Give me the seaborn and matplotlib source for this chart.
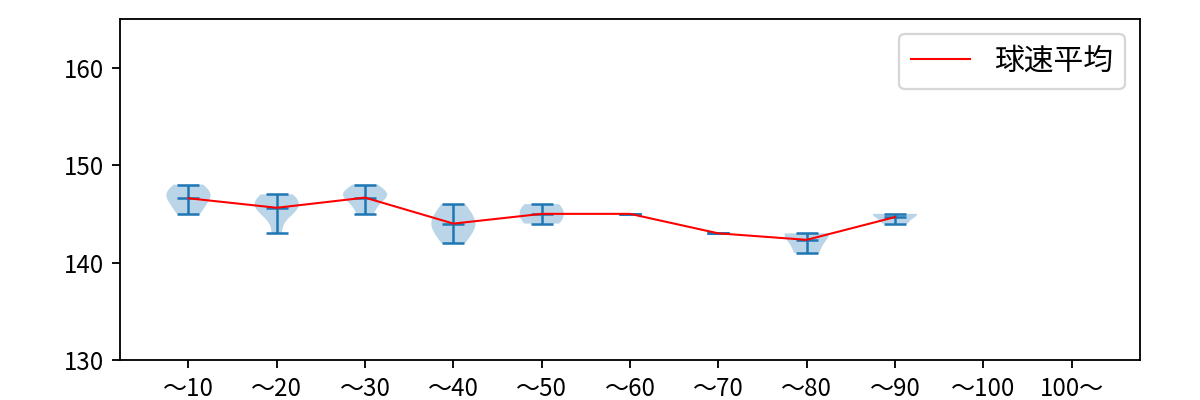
import numpy as np
import pandas as pd
import matplotlib
matplotlib.use("Agg")
import matplotlib.pyplot as plt
import seaborn as sns

plt.rcParams['font.family'] = ['Noto Sans CJK JP', 'DejaVu Sans']

categories = ["〜10", "〜20", "〜30", "〜40", "〜50", "〜60", "〜70", "〜80", "〜90", "〜100", "100〜"]
g10 = [145, 146, 147, 147, 148]
g20 = [143, 145, 145, 146, 146, 146, 147, 147]
g30 = [145, 146, 147, 147, 147, 148]
g40 = [142, 143, 144, 144, 145, 146]
g50 = [144, 145, 146]
g60 = [145]
g70 = [143]
g80 = [141, 143, 143]
g90 = [144, 145, 145]
g100 = []
g100p = []
groups = [g10, g20, g30, g40, g50, g60, g70, g80, g90, g100, g100p]
legend_label = "球速平均"
yticks = [130, 140, 150, 160]

rows = []
for cat, vals in zip(categories, groups):
    for v in vals:
        rows.append({"cat": cat, "speed": v})
df = pd.DataFrame(rows)
# violins need at least two distinct values
df_violin = df[df.groupby("cat")["speed"].transform("nunique") > 1]

dpi = 165
fig = plt.figure(figsize=(1200 / dpi, 400 / dpi), dpi=dpi)
ax = fig.add_axes([0.1, 0.1, 0.85, 0.8525])

blue = "#1f77b4"
sns.violinplot(data=df_violin, x="cat", y="speed", order=categories, cut=0,
               inner=None, density_norm="width", width=0.5, color=blue,
               saturation=1, linewidth=0, ax=ax)
for c in ax.collections:
    c.set_alpha(0.3)
    c.set_edgecolor("none")

cap = 0.125
pos = {c: i for i, c in enumerate(categories)}
means_x, means_y = [], []
for cat, vals in zip(categories, groups):
    if not vals:
        continue
    x = pos[cat]
    lo, hi, mu = min(vals), max(vals), float(np.mean(vals))
    ax.hlines([lo, hi, mu], x - cap, x + cap, color=blue, linewidth=1.1)
    ax.vlines(x, lo, hi, color=blue, linewidth=1.1)
    means_x.append(x)
    means_y.append(mu)

mean_df = pd.DataFrame({"x": means_x, "y": means_y})
sns.lineplot(data=mean_df, x="x", y="y", color="red", linewidth=0.9,
             label=legend_label, ax=ax)

ax.set_xlim(-0.775, len(categories) - 1 + 0.775)
ax.set_ylim(130, 165)
ax.set_yticks(yticks)
ax.set_xticks(range(len(categories)))
ax.set_xticklabels(categories)
ax.set_xlabel("")
ax.set_ylabel("")
ax.tick_params(labelsize=10.5)
ax.legend(loc="upper right", fontsize=13)

fig.savefig("out.png", dpi=dpi)
